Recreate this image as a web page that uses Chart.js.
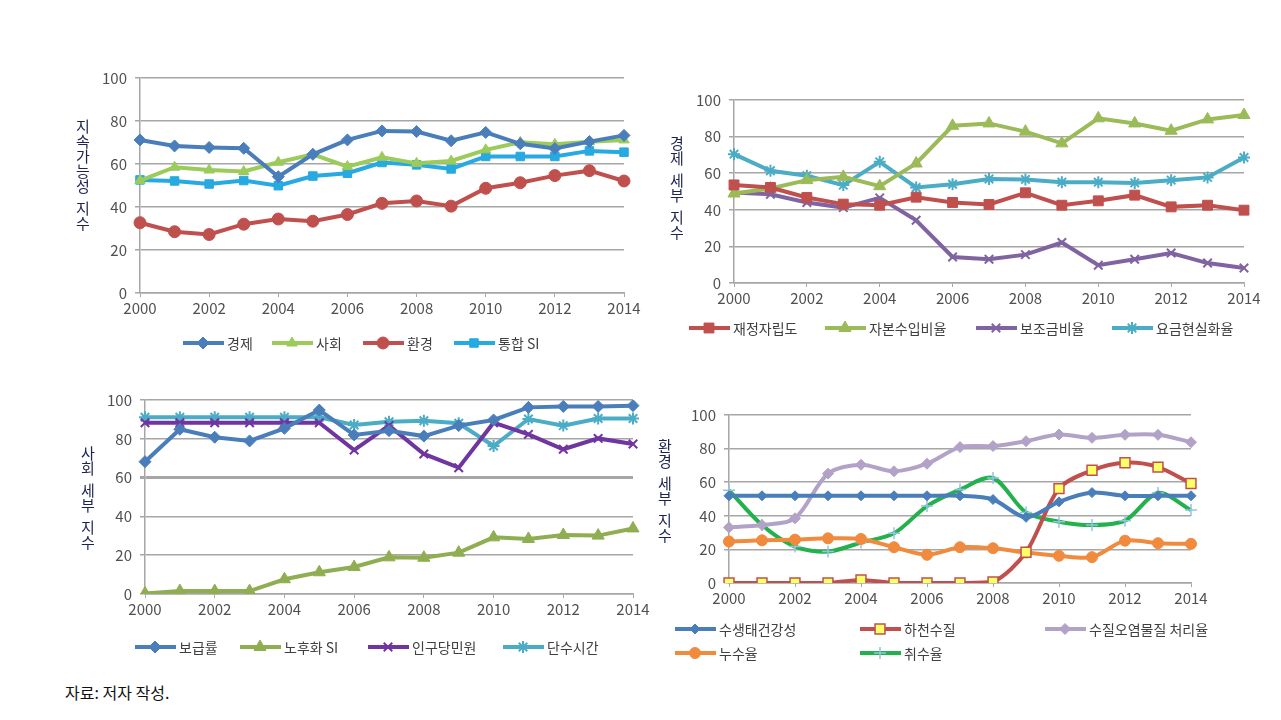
<!DOCTYPE html>
<html>
<head>
<meta charset="utf-8">
<script src="https://cdn.jsdelivr.net/npm/chart.js@4.4.0/dist/chart.umd.min.js"></script>
<style>
  body { margin: 0; background: #fff; width: 1281px; height: 720px; position: relative; overflow: hidden;
         font-family: "Noto Sans CJK KR", "Noto Sans", sans-serif; }
  canvas { position: absolute; }
  .ytitle { position: absolute; display: flex; flex-direction: column; align-items: center;
            font-size: 15px; line-height: 15px; color: #1c2350; }
  .ytitle .gap { height: 7px; }
  .note { position: absolute; left: 65px; top: 680px; font-size: 16px; color: #111; }
</style>
</head>
<body>
<canvas id="c1" width="580" height="310" style="left:70px;top:60px"></canvas>
<canvas id="c2" width="610" height="265" style="left:660px;top:85px"></canvas>
<canvas id="c3" width="580" height="280" style="left:70px;top:385px"></canvas>
<canvas id="c4" width="600" height="270" style="left:660px;top:400px"></canvas>

<div class="ytitle" id="t1" style="left:76px;top:118px" data-text="지속가능성 지수"></div>
<div class="ytitle" id="t2" style="left:670px;top:135px" data-text="경제 세부 지수"></div>
<div class="ytitle" id="t3" style="left:81px;top:445px" data-text="사회 세부 지수"></div>
<div class="ytitle" id="t4" style="left:658px;top:438px" data-text="환경 세부 지수"></div>
<div class="note">자료: 저자 작성.</div>

<script>
const years = ['2000','2001','2002','2003','2004','2005','2006','2007','2008','2009','2010','2011','2012','2013','2014'];
const yTicks = [0, 20, 40, 60, 80, 100];

// 지속가능성 지수
const econ    = [71.2, 68.4, 67.7, 67.3, 54.1, 64.5, 71.2, 75.4, 75.1, 70.8, 74.7, 69.4, 67.2, 70.4, 73.3];
const social  = [52.3, 58.5, 57.2, 56.5, 60.8, 64.5, 58.8, 63.1, 60.3, 61.4, 66.6, 70.1, 69.2, 70.4, 71.2];
const env     = [32.7, 28.5, 27.2, 32.0, 34.4, 33.4, 36.5, 41.7, 42.8, 40.4, 48.7, 51.3, 54.6, 56.9, 52.1];
const totalSI = [52.6, 52.1, 50.7, 52.3, 49.9, 54.4, 55.7, 60.7, 59.6, 57.7, 63.5, 63.5, 63.5, 66.1, 65.5];

// 경제 세부 지수
const finance = [53.6, 52.2, 46.7, 43.1, 42.5, 46.9, 44.0, 42.9, 49.3, 42.5, 44.9, 48.0, 41.6, 42.5, 39.8];
const capital = [48.9, 51.6, 56.2, 58.0, 52.9, 65.3, 85.9, 87.2, 82.7, 76.3, 90.0, 87.2, 83.2, 89.4, 91.8];
const subsidy = [49.5, 48.5, 44.0, 41.2, 46.5, 34.3, 14.2, 13.0, 15.5, 22.1, 9.7, 13.0, 16.4, 10.9, 8.2];
const tariff  = [70.4, 61.3, 58.6, 53.5, 66.2, 52.2, 54.0, 56.8, 56.6, 55.1, 55.1, 54.7, 56.2, 57.7, 68.6];

// 사회 세부 지수
const supply     = [68.2, 84.9, 80.8, 78.9, 85.4, 94.8, 82.0, 84.2, 81.4, 86.8, 89.7, 96.2, 96.7, 96.7, 97.1];
const aging      = [0.3, 1.5, 1.5, 1.5, 7.6, 11.2, 13.9, 18.9, 18.7, 21.3, 29.2, 28.4, 30.4, 30.1, 33.8];
const complaints = [88.3, 88.3, 88.3, 88.3, 88.3, 88.3, 74.2, 86.8, 72.2, 65.1, 88.3, 82.3, 74.6, 80.2, 77.3];
const outage     = [91.1, 91.1, 91.1, 91.1, 91.1, 91.1, 87.1, 88.8, 89.3, 88.0, 76.3, 90.2, 86.8, 90.5, 90.5];

// 환경 세부 지수
const ecoHealth  = [51.9, 51.9, 51.9, 51.9, 51.9, 51.9, 51.9, 51.9, 49.7, 39.1, 48.3, 53.8, 51.9, 51.9, 51.9];
const river      = [0, 0, 0, 0, 1.8, 0, 0, 0, 0.6, 18.3, 56.2, 67.1, 71.6, 69.0, 59.2];
const pollutant  = [33.1, 34.5, 38.5, 65.1, 70.4, 66.5, 71.0, 80.9, 81.5, 84.4, 88.4, 86.4, 88.2, 88.2, 83.8];
const leakage    = [24.7, 25.4, 25.8, 26.6, 26.2, 21.3, 16.8, 21.3, 20.7, 18.1, 16.2, 15.4, 25.2, 23.7, 23.3];
const intake     = [55.2, 34.5, 21.7, 18.7, 24.1, 29.6, 45.8, 55.6, 62.5, 42.0, 36.5, 34.5, 37.1, 53.6, 43.4];

const FONT = '"Noto Sans CJK KR", "Noto Sans", sans-serif';

// stacked vertical axis titles (one syllable per line, small gap for spaces)
document.querySelectorAll('.ytitle').forEach(el => {
  for (const ch of el.dataset.text) {
    const s = document.createElement('span');
    if (ch === ' ') s.className = 'gap'; else s.textContent = ch;
    el.appendChild(s);
  }
});

function series(label, data, color, style, radius, extra) {
  return Object.assign({
    label: label, data: data,
    borderColor: color, backgroundColor: color,
    borderWidth: 4,
    pointStyle: style, pointRadius: radius, pointHoverRadius: radius,
    pointBackgroundColor: color, pointBorderColor: color, pointBorderWidth: 1,
    tension: 0
  }, extra || {});
}

// legend drawn as line + marker + text, at fixed positions
const lineLegend = {
  id: 'lineLegend',
  afterDraw(chart, args, opts) {
    const ctx = chart.ctx;
    ctx.save();
    chart.data.datasets.forEach((ds, i) => {
      const p = opts.items[i];
      const x = p[0], y = p[1];
      ctx.strokeStyle = ds.borderColor;
      ctx.lineWidth = ds.borderWidth;
      ctx.lineCap = 'butt';
      ctx.beginPath();
      ctx.moveTo(x, y);
      ctx.lineTo(x + 41, y);
      ctx.stroke();
      if (Chart.helpers && Chart.helpers.drawPoint) {
        ctx.fillStyle = ds.pointBackgroundColor;
        ctx.strokeStyle = ds.pointBorderColor;
        ctx.lineWidth = ds.pointBorderWidth;
        Chart.helpers.drawPoint(ctx, {pointStyle: ds.pointStyle, radius: ds.pointRadius, rotation: 0,
          borderWidth: ds.pointBorderWidth}, x + 20, y);
      }
      ctx.fillStyle = '#404040';
      ctx.font = '14px ' + FONT;
      ctx.textBaseline = 'middle';
      ctx.textAlign = 'left';
      ctx.fillText(ds.label, x + 44, y + 1);
    });
    ctx.restore();
  }
};

function makeChart(id, box, area, datasets, legendItems, opts) {
  opts = opts || {};
  const xh = 30;
  const ctx = document.getElementById(id);
  return new Chart(ctx, {
    type: 'line',
    data: { labels: years, datasets: datasets },
    plugins: [lineLegend],
    options: {
      responsive: false,
      devicePixelRatio: 1,
      animation: false,
      layout: {
        padding: {
          left: 0,
          top: area.top - box.top,
          right: box.left + box.w - area.right,
          bottom: box.top + box.h - area.bottom - xh
        }
      },
      plugins: {
        legend: { display: false },
        tooltip: { enabled: false },
        lineLegend: { items: legendItems }
      },
      scales: {
        x: {
          type: 'category',
          offset: false,
          grid: { display: true, drawOnChartArea: false, drawTicks: true, tickLength: 4, color: '#a6a6a6' },
          border: { color: '#a6a6a6', width: 1.5 },
          ticks: {
            autoSkip: false, maxRotation: 0, padding: 2,
            color: '#505050', font: { family: FONT, size: 15 },
            callback: (v, i) => (i % 2 === 0 ? years[i] : null)
          },
          afterFit: s => { s.height = xh; s.paddingLeft = 0; s.paddingRight = 0; }
        },
        y: {
          min: 0, max: 100,
          afterBuildTicks: s => { s.ticks = yTicks.map(v => ({ value: v })); },
          grid: {
            color: '#a6a6a6',
            lineWidth: opts.gridWidth || (() => 1.5),
            tickLength: 5
          },
          border: { color: '#a6a6a6', width: 1.5 },
          ticks: { padding: 8, color: '#505050', font: { family: FONT, size: 15 } },
          afterFit: s => { s.width = area.left - box.left; s.paddingTop = 0; s.paddingBottom = 0; }
        }
      }
    }
  });
}

// 1. 지속가능성 지수
makeChart('c1', {left: 70, top: 60, w: 580, h: 310}, {left: 140, right: 624, top: 78, bottom: 293}, [
  series('경제', econ, '#4a7ebb', 'rectRot', 6),
  series('사회', social, '#9bcb5a', 'triangle', 6),
  series('환경', env, '#c0504d', 'circle', 6),
  series('통합 SI', totalSI, '#27a9e1', 'rect', 6)
], [[113, 283], [202, 283], [293, 283], [384, 283]]);

// 2. 경제 세부 지수
makeChart('c2', {left: 660, top: 85, w: 610, h: 265}, {left: 734, right: 1244, top: 100, bottom: 283}, [
  series('재정자립도', finance, '#c0504d', 'rect', 7),
  series('자본수입비율', capital, '#9bbb59', 'triangle', 7),
  series('보조금비율', subsidy, '#8064a2', 'crossRot', 6, {pointBorderWidth: 2}),
  series('요금현실화율', tariff, '#4bacc6', 'star', 6, {pointBorderWidth: 2})
], [[29, 243], [165, 243], [316, 243], [452, 243]]);

// 3. 사회 세부 지수
makeChart('c3', {left: 70, top: 385, w: 580, h: 280}, {left: 145, right: 633, top: 400, bottom: 594}, [
  series('보급률', supply, '#4a7ebb', 'rectRot', 6),
  series('노후화 SI', aging, '#8fae51', 'triangle', 7),
  series('인구당민원', complaints, '#7035a0', 'crossRot', 6, {pointBorderWidth: 2}),
  series('단수시간', outage, '#4bacc6', 'star', 6, {pointBorderWidth: 2})
], [[65, 262], [170, 262], [298, 262], [433, 262]],
{ gridWidth: c => (c.tick && c.tick.value === 60 ? 3 : 1.5) });

// 4. 환경 세부 지수
makeChart('c4', {left: 660, top: 400, w: 600, h: 270}, {left: 729, right: 1191, top: 415, bottom: 583}, [
  series('수생태건강성', ecoHealth, '#4a7ebb', 'rectRot', 5, {tension: 0.3}),
  series('하천수질', river, '#c0504d', 'rect', 7,
    {tension: 0.3, pointBackgroundColor: '#ffff66', pointBorderColor: '#c0504d', pointBorderWidth: 1.5}),
  series('수질오염물질 처리율', pollutant, '#b3a2c7', 'rectRot', 5.5, {tension: 0.3}),
  series('누수율', leakage, '#f08b3e', 'circle', 5.5, {tension: 0.3}),
  series('취수율', intake, '#22b14c', 'cross', 6,
    {tension: 0.3, pointBorderColor: '#93c5e0', pointBorderWidth: 1.5})
], [[15, 229], [200, 229], [385, 229], [15, 253], [200, 253]]);
</script>
</body>
</html>
